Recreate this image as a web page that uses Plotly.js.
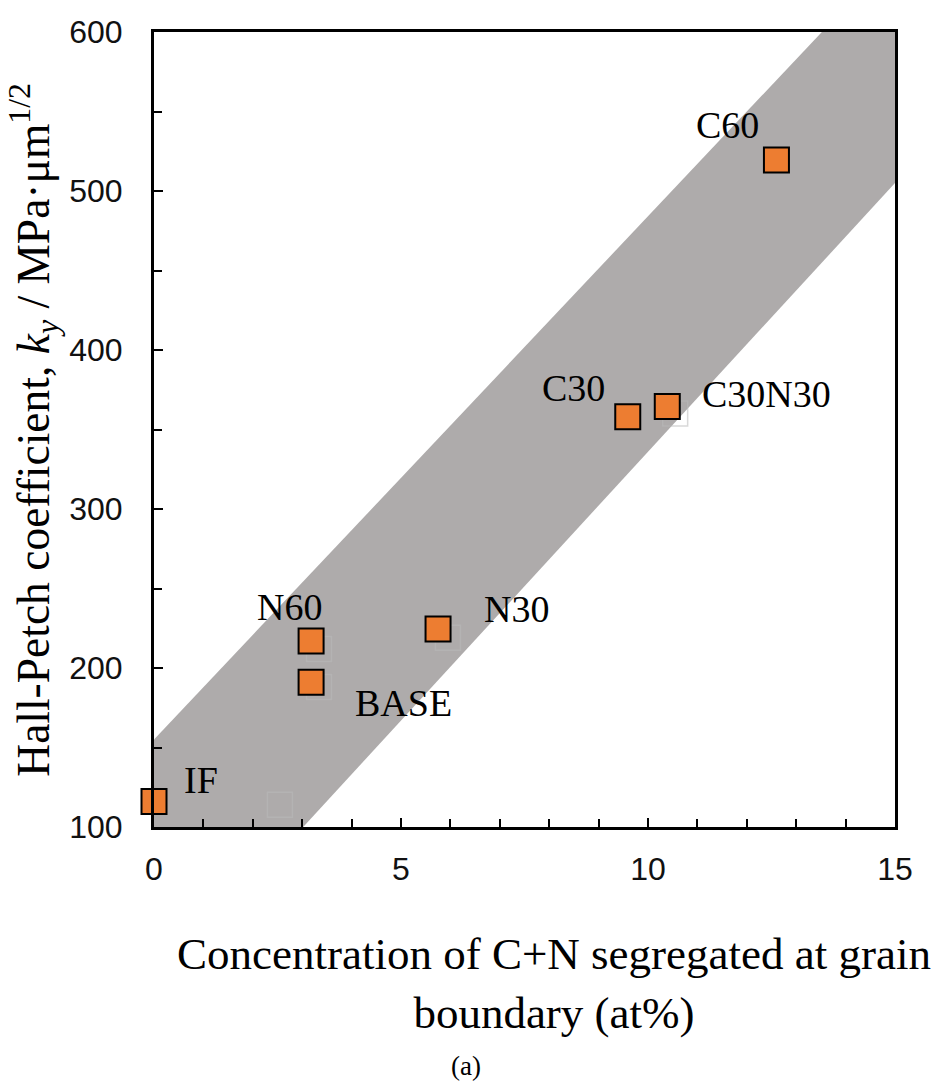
<!DOCTYPE html>
<html>
<head>
<meta charset="utf-8">
<script src="https://cdn.plot.ly/plotly-3.0.1.min.js"></script>
<style>html,body{margin:0;padding:0;background:#fff;}#chart{width:943px;height:1084px;}</style>
</head>
<body>
<div id="chart"></div>
<script>
// ---- data ----
const sampleNames = ["IF", "N60", "BASE", "N30", "C30", "C30N30", "C60"];
const concentration = [0, 3.18, 3.18, 5.75, 9.59, 10.39, 12.6];
const hallPetchKy = [116, 217, 191, 224.5, 358, 364.5, 519.5];

// faint ghost squares visible in the original figure
const ghostX = [2.55, 3.34, 3.34, 5.95, 10.55];
const ghostY = [114, 212, 188, 219, 360];

// grey scatter band (polygon vertices, data units)
const bandX = [0, 0, 13.52, 15, 15, 3.02];
const bandY = [100, 155, 600, 600, 505, 100];

// label anchor positions (data units)
const labelX = [0.95, 2.75, 5.06, 7.33, 8.49, 12.40, 11.61];
const labelY = [129.3, 238.4, 178.3, 237.4, 375.8, 372.6, 541.8];

const xTicks = [0, 5, 10, 15];
const yTicks = [100, 200, 300, 400, 500, 600];

// ---- traces ----
const band = {
  x: bandX, y: bandY, type: "scatter", mode: "none",
  fill: "toself", fillcolor: "#AEABAB", hoverinfo: "skip", showlegend: false
};
const ghost = {
  x: ghostX, y: ghostY, type: "scatter", mode: "markers",
  marker: {symbol: "square-open", size: 25, color: "rgba(185,185,185,0.55)", line: {width: 1.5}},
  hoverinfo: "skip", showlegend: false
};
const pts = {
  x: concentration, y: hallPetchKy, text: sampleNames, type: "scatter", mode: "markers",
  marker: {symbol: "square", size: 25, color: "#ED7D31", line: {color: "#000", width: 2}},
  cliponaxis: false, showlegend: false
};

const serif = "Liberation Serif, Times New Roman, serif";
const sans = "Liberation Sans, Arial, sans-serif";

const annotations = sampleNames.map((n, i) => ({
  x: labelX[i], y: labelY[i], xref: "x", yref: "y", text: n, showarrow: false,
  xanchor: "center", yanchor: "middle", font: {family: serif, size: 38, color: "#000"}
}));
annotations.push({
  xref: "paper", yref: "paper", x: -0.163, y: 0.5, xanchor: "center", yanchor: "middle",
  textangle: -90, showarrow: false,
  text: "Hall-Petch coefficient, <i>k<sub>y</sub></i> / MPa·μm<sup>1/2</sup>",
  font: {family: serif, size: 45.5, color: "#000"}
});
annotations.push({
  xref: "paper", yref: "paper", x: 0.54, y: -0.126, xanchor: "center", yanchor: "top",
  showarrow: false, align: "center",
  text: "Concentration of C+N segregated at grain<br>boundary (at%)",
  font: {family: serif, size: 45, color: "#000"}
});
annotations.push({
  xref: "paper", yref: "paper", x: 0.421, y: -0.3006, xanchor: "center", yanchor: "middle",
  showarrow: false, text: "(a)", font: {family: serif, size: 27, color: "#000"}
});

const layout = {
  width: 943, height: 1084,
  margin: {l: 154, r: 48, t: 32, b: 257},
  paper_bgcolor: "#fff", plot_bgcolor: "#fff",
  showlegend: false,
  xaxis: {
    range: [0, 15], tickvals: xTicks, ticktext: xTicks.map(String),
    ticks: "inside", ticklen: 9, tickwidth: 2, tickcolor: "#000",
    minor: {dtick: 1, tick0: 0, ticks: "inside", ticklen: 8, tickwidth: 2, tickcolor: "#000", showgrid: false},
    showline: true, linewidth: 3, linecolor: "#000", mirror: true,
    showgrid: false, zeroline: false, ticklabelstandoff: 12,
    tickfont: {family: sans, size: 32, color: "#111"}
  },
  yaxis: {
    range: [100, 600], tickvals: yTicks, ticktext: yTicks.map(String),
    ticks: "inside", ticklen: 9, tickwidth: 2, tickcolor: "#000",
    minor: {dtick: 50, tick0: 100, ticks: "inside", ticklen: 8, tickwidth: 2, tickcolor: "#000", showgrid: false},
    showline: true, linewidth: 3, linecolor: "#000", mirror: true,
    showgrid: false, zeroline: false, ticklabelstandoff: 22,
    tickfont: {family: sans, size: 32, color: "#111"}
  },
  annotations: annotations
};

Plotly.newPlot("chart", [band, ghost, pts], layout, {displayModeBar: false, staticPlot: true});
</script>
</body>
</html>
